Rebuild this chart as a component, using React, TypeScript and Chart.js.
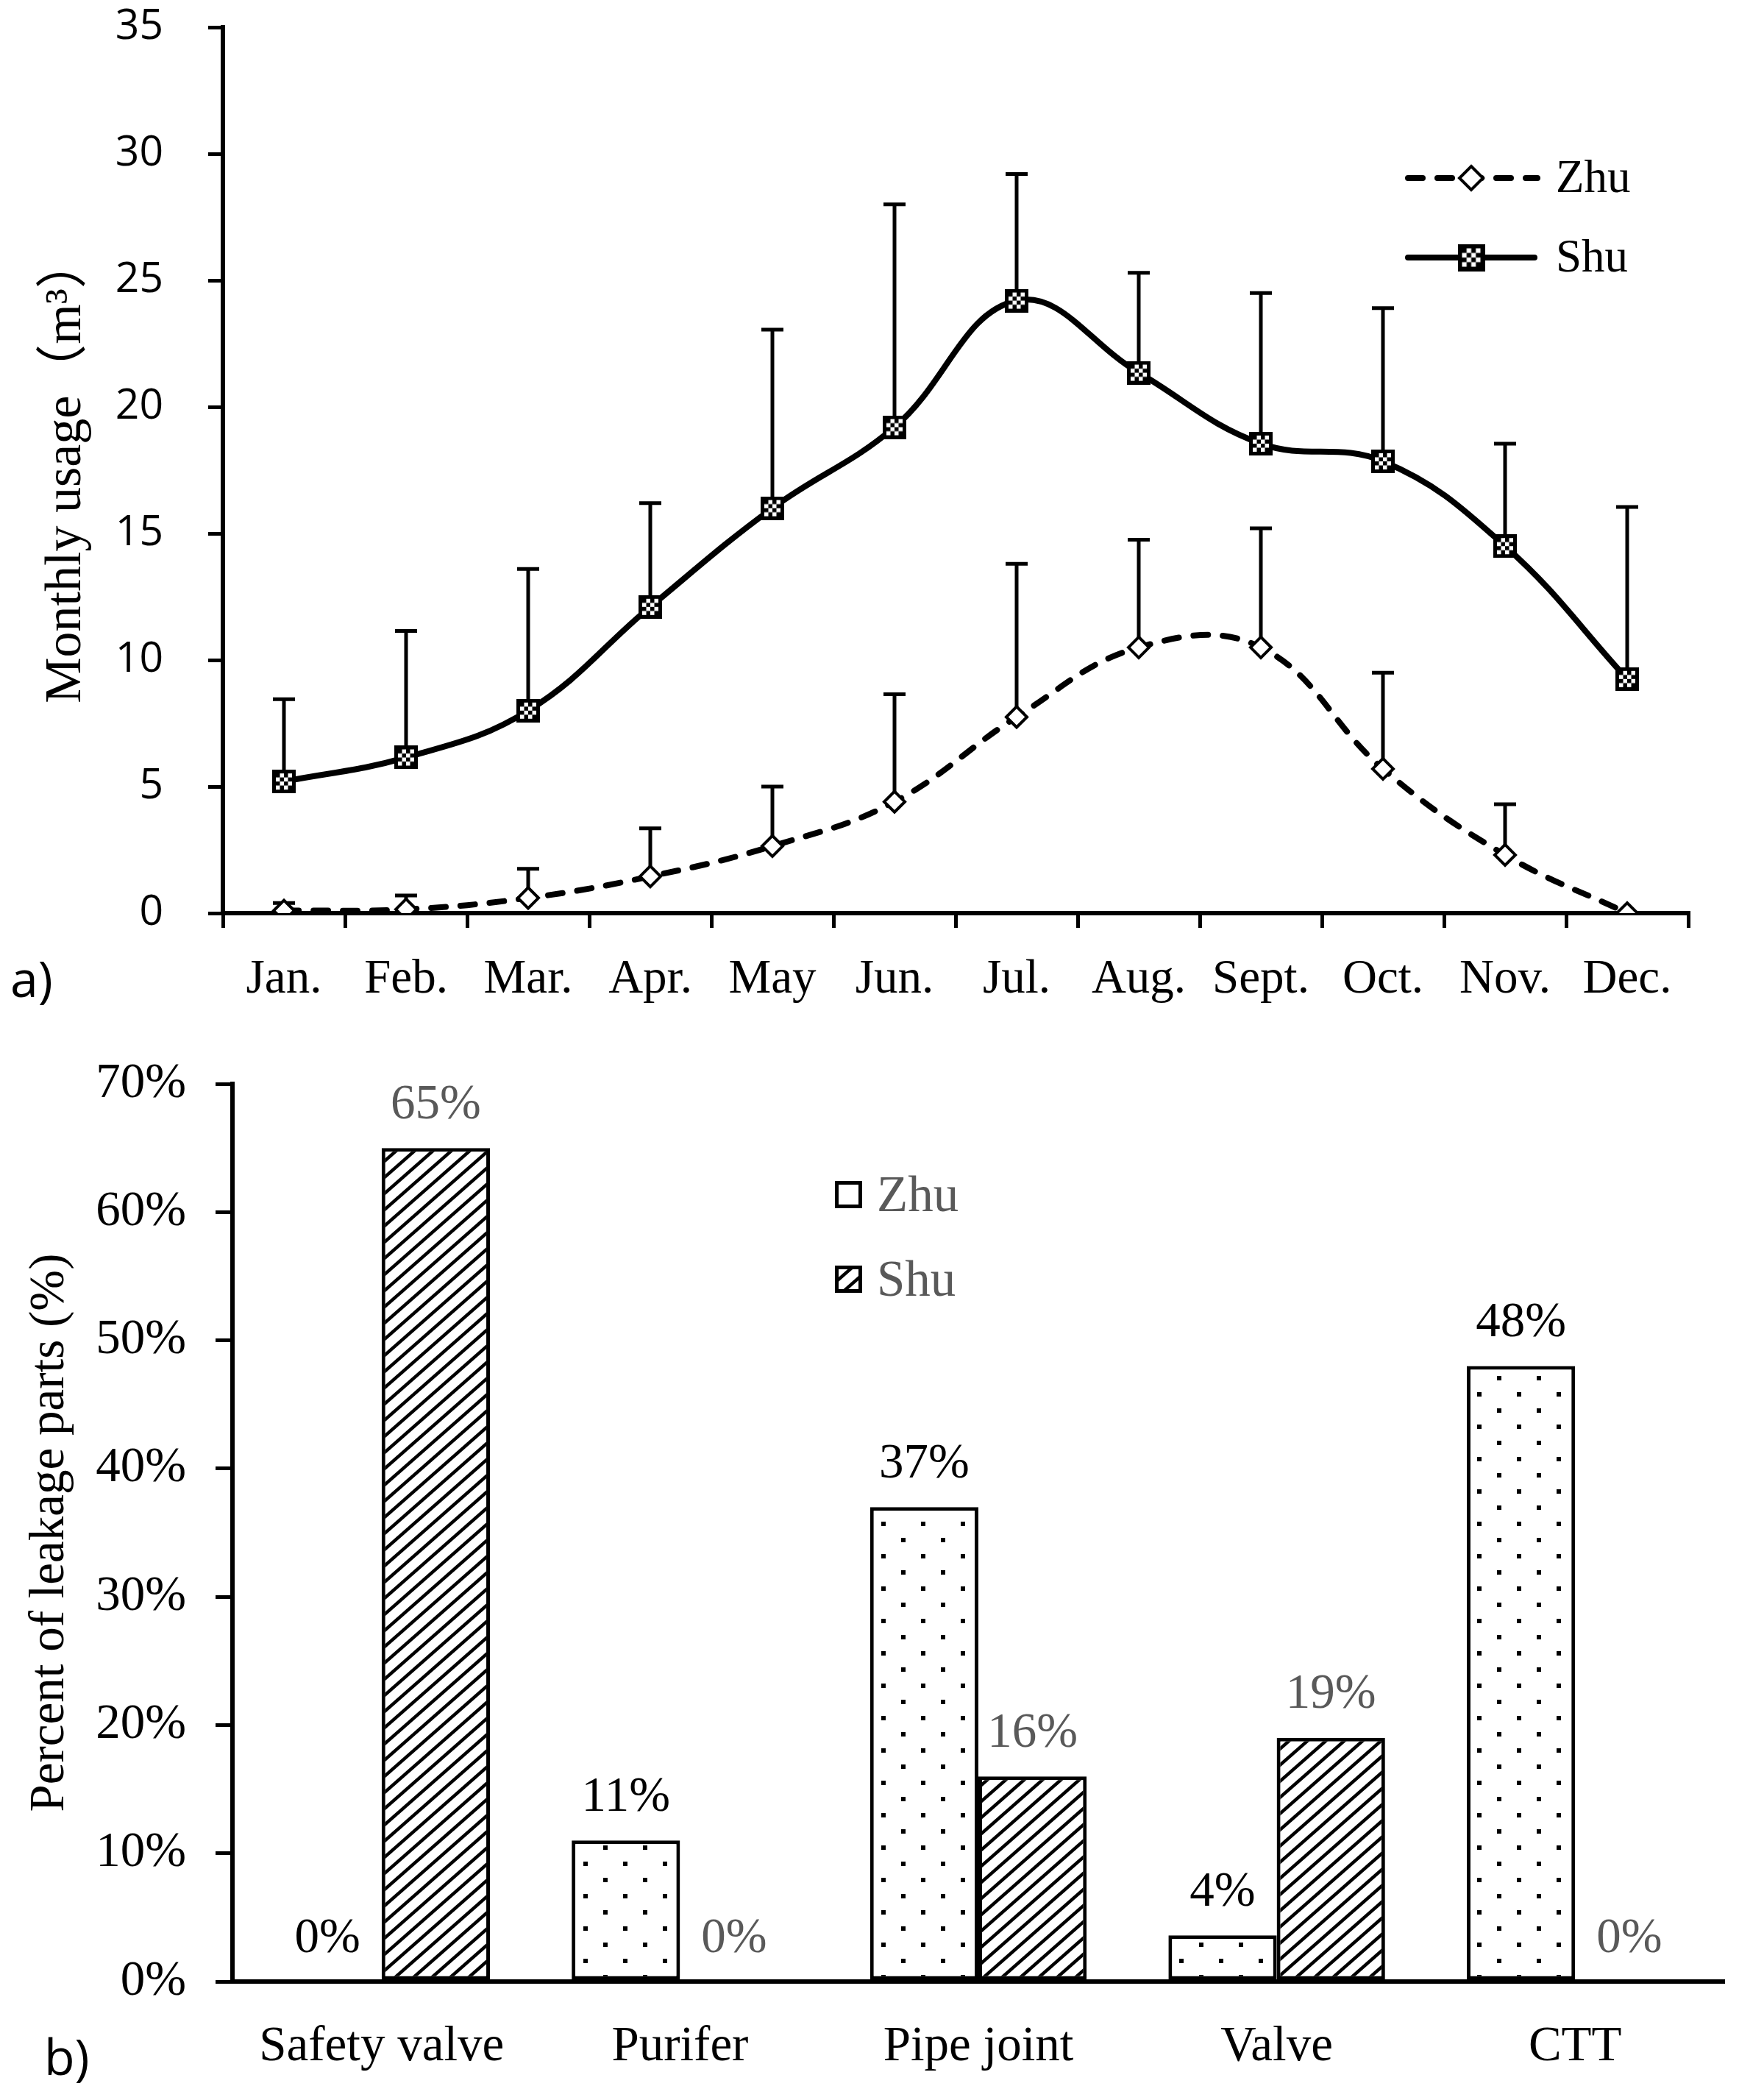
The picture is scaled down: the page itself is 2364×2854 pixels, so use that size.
import { useEffect, useRef } from "react"
import { Chart, registerables } from "chart.js"

Chart.register(...registerables)

// ---- data: monthly usage (m3) ----
const months = ["Jan.", "Feb.", "Mar.", "Apr.", "May", "Jun.", "Jul.", "Aug.", "Sept.", "Oct.", "Nov.", "Dec."]
const zhuUsage = [0.1, 0.15, 0.6, 1.45, 2.65, 4.4, 7.75, 10.5, 10.5, 5.7, 2.3, 0.0]
const zhuUpper = [0.4, 0.7, 1.75, 3.35, 5.0, 8.65, 13.8, 14.75, 15.2, 9.5, 4.3, 0.0]
const shuUsage = [5.2, 6.15, 8.0, 12.1, 16.0, 19.2, 24.2, 21.35, 18.55, 17.85, 14.5, 9.25]
const shuUpper = [8.45, 11.15, 13.6, 16.2, 23.05, 28.0, 29.2, 25.3, 24.5, 23.9, 18.55, 16.05]
const usageTicks = [0, 5, 10, 15, 20, 25, 30, 35]

// ---- data: leakage parts (%) ----
const parts = ["Safety valve", "Purifer", "Pipe joint", "Valve", "CTT"]
const zhuLeak = [0, 11, 37, 3.6, 48]
const shuLeak = [65, 0, 16, 19, 0]
const percentTicks = [0, 10, 20, 30, 40, 50, 60, 70]
const percentLabels = ["0%", "10%", "20%", "30%", "40%", "50%", "60%", "70%"]

const SERIF = "'Liberation Serif', 'Times New Roman', serif"
const SERIF_CJK = "'Liberation Serif', 'Noto Sans CJK SC', serif"
const SANS = "'Open Sans', sans-serif"
const GREY = "#595959"

function makeCheckerMarker(size: number) {
  const c = document.createElement("canvas")
  c.width = size
  c.height = size
  const g = c.getContext("2d")!
  g.fillStyle = "#000"
  g.fillRect(0, 0, size, size)
  const b = Math.round(size * 0.16)
  g.fillStyle = "#fff"
  g.fillRect(b, b, size - 2 * b, size - 2 * b)
  const n = 4
  const cell = (size - 2 * b) / n
  g.fillStyle = "#000"
  for (let i = 0; i < n; i++) {
    for (let j = 0; j < n; j++) {
      if ((i + j) % 2 === 0) g.fillRect(b + i * cell, b + j * cell, cell, cell)
    }
  }
  return c
}

function makeHatch(ctx: CanvasRenderingContext2D) {
  const w = 25
  const h = 22
  const c = document.createElement("canvas")
  c.width = w
  c.height = h
  const g = c.getContext("2d")!
  g.fillStyle = "#fff"
  g.fillRect(0, 0, w, h)
  g.strokeStyle = "#000"
  g.lineWidth = 4.5
  for (let k = -1; k <= 1; k++) {
    g.beginPath()
    g.moveTo(-w, 2 * h + k * h)
    g.lineTo(2 * w, -h + k * h)
    g.stroke()
  }
  return ctx.createPattern(c, "repeat")
}

function makeDots(ctx: CanvasRenderingContext2D) {
  const c = document.createElement("canvas")
  c.width = 54
  c.height = 44
  const g = c.getContext("2d")!
  g.fillStyle = "#fff"
  g.fillRect(0, 0, 54, 44)
  g.fillStyle = "#000"
  g.fillRect(10, 8, 6, 6)
  g.fillRect(37, 30, 6, 6)
  return ctx.createPattern(c, "repeat")
}

// upward-only error bars drawn under the lines
const usageErrorBars = {
  id: "usageErrorBars",
  beforeDatasetsDraw(chart: any) {
    const { ctx } = chart
    const y = chart.scales.y
    const uppers = [zhuUpper, shuUpper]
    const values = [zhuUsage, shuUsage]
    ctx.save()
    ctx.strokeStyle = "#000"
    ctx.lineWidth = 5
    uppers.forEach((upper, di) => {
      const meta = chart.getDatasetMeta(di)
      meta.data.forEach((pt: any, i: number) => {
        if (upper[i] <= values[di][i]) return
        const top = y.getPixelForValue(upper[i])
        ctx.beginPath()
        ctx.moveTo(pt.x, pt.y)
        ctx.lineTo(pt.x, top)
        ctx.moveTo(pt.x - 15, top)
        ctx.lineTo(pt.x + 15, top)
        ctx.stroke()
      })
    })
    ctx.restore()
  },
}

function UsageChart() {
  const chartRef = useRef<HTMLCanvasElement>(null)

  useEffect(() => {
    if (!chartRef.current) return
    const ctx = chartRef.current.getContext("2d")
    if (!ctx) return

    const checker = makeCheckerMarker(32)
    const checkerLegend = makeCheckerMarker(37)

    const legendPlugin = {
      id: "usageLegend",
      afterDraw(chart: any) {
        const c = chart.ctx
        c.save()
        // Zhu
        c.strokeStyle = "#000"
        c.lineWidth = 8
        c.lineCap = "round"
        c.setLineDash([20, 20])
        c.beginPath()
        c.moveTo(1914, 242)
        c.lineTo(2090, 242)
        c.stroke()
        c.setLineDash([])
        c.fillStyle = "#fff"
        c.lineWidth = 4
        c.beginPath()
        c.moveTo(2000, 226)
        c.lineTo(2016, 242)
        c.lineTo(2000, 258)
        c.lineTo(1984, 242)
        c.closePath()
        c.fill()
        c.stroke()
        // Shu
        c.lineWidth = 8
        c.beginPath()
        c.moveTo(1914, 350)
        c.lineTo(2086, 350)
        c.stroke()
        c.drawImage(checkerLegend, 2000 - 18.5, 350 - 18.5)
        c.fillStyle = "#000"
        c.font = `63px ${SERIF}`
        c.textBaseline = "middle"
        c.textAlign = "left"
        c.fillText("Zhu", 2115, 244)
        c.fillText("Shu", 2115, 352)
        c.restore()
      },
    }

    const chart = new Chart(ctx, {
      type: "line",
      data: {
        labels: months,
        datasets: [
          {
            label: "Zhu",
            data: zhuUsage,
            borderColor: "#000",
            borderWidth: 8,
            borderDash: [20, 20],
            borderCapStyle: "round",
            tension: 0.4,
            fill: false,
            pointStyle: "rectRot",
            pointRadius: 14,
            pointBorderWidth: 4,
            pointBackgroundColor: "#fff",
            pointBorderColor: "#000",
          },
          {
            label: "Shu",
            data: shuUsage,
            borderColor: "#000",
            borderWidth: 8,
            tension: 0.4,
            fill: false,
            pointStyle: checker,
            pointRadius: 16,
          },
        ],
      },
      options: {
        responsive: false,
        maintainAspectRatio: false,
        animation: false,
        layout: { autoPadding: false, padding: { top: 37, right: 69, left: 0, bottom: 0 } },
        plugins: {
          legend: { display: false },
          tooltip: { enabled: false },
        },
        scales: {
          x: {
            offset: true,
            grid: {
              display: true,
              offset: true,
              drawOnChartArea: false,
              drawTicks: true,
              tickLength: 20,
              lineWidth: 5,
              color: "#000",
            },
            border: { display: true, color: "#000", width: 6 },
            ticks: {
              color: "#000",
              font: { family: SERIF, size: 65 },
              padding: 32,
              maxRotation: 0,
              autoSkip: false,
            },
            afterFit: (s: any) => {
              s.height = 159
              s.paddingLeft = 0
              s.paddingRight = 0
            },
          },
          y: {
            min: 0,
            max: 35,
            afterBuildTicks: (s: any) => {
              s.ticks = usageTicks.map((v) => ({ value: v }))
            },
            ticks: {
              color: "#000",
              font: { family: SANS, size: 57 },
              padding: 61,
            },
            grid: {
              drawOnChartArea: false,
              tickLength: 20,
              lineWidth: 5,
              color: "#000",
            },
            border: { display: true, color: "#000", width: 6 },
            title: {
              display: true,
              text: "Monthly usage（m³）",
              color: "#000",
              font: { family: SERIF_CJK, size: 70 },
              padding: { top: 49, bottom: 0 },
            },
            afterFit: (s: any) => {
              s.width = 303
              s.paddingTop = 0
              s.paddingBottom = 0
            },
          },
        },
      },
      plugins: [usageErrorBars, legendPlugin],
    } as any)

    return () => {
      chart.destroy()
    }
  }, [])

  return (
    <canvas
      ref={chartRef}
      width={2364}
      height={1400}
      style={{ position: "absolute", left: 0, top: 0, display: "block" }}
    />
  )
}

function LeakageChart() {
  const chartRef = useRef<HTMLCanvasElement>(null)

  useEffect(() => {
    if (!chartRef.current) return
    const ctx = chartRef.current.getContext("2d")
    if (!ctx) return

    const dots = makeDots(ctx)
    const hatch = makeHatch(ctx)

    const valueLabels = {
      id: "valueLabels",
      afterDatasetsDraw(chart: any) {
        const c = chart.ctx
        c.save()
        c.font = `67px ${SERIF}`
        c.textAlign = "center"
        c.textBaseline = "middle"
        chart.data.datasets.forEach((ds: any, di: number) => {
          c.fillStyle = di === 0 ? "#000" : GREY
          chart.getDatasetMeta(di).data.forEach((bar: any, i: number) => {
            c.fillText(`${Math.round(ds.data[i])}%`, bar.x, bar.y - 58)
          })
        })
        c.restore()
      },
    }

    const legendPlugin = {
      id: "leakLegend",
      afterDraw(chart: any) {
        const c = chart.ctx
        c.save()
        c.lineWidth = 5
        c.strokeStyle = "#000"
        c.fillStyle = "#fff"
        c.fillRect(1137.5, 207.5, 32, 32)
        c.strokeRect(1137.5, 207.5, 32, 32)
        c.fillStyle = hatch as any
        c.fillRect(1137.5, 322.5, 32, 32)
        c.strokeRect(1137.5, 322.5, 32, 32)
        c.fillStyle = GREY
        c.font = `69px ${SERIF}`
        c.textBaseline = "middle"
        c.textAlign = "left"
        c.fillText("Zhu", 1192, 228)
        c.fillText("Shu", 1192, 343)
        c.restore()
      },
    }

    const chart = new Chart(ctx, {
      type: "bar",
      data: {
        labels: parts,
        datasets: [
          {
            label: "Zhu",
            data: zhuLeak,
            backgroundColor: dots,
            borderColor: "#000",
            borderWidth: 5,
            borderSkipped: false,
          },
          {
            label: "Shu",
            data: shuLeak,
            backgroundColor: hatch,
            borderColor: "#000",
            borderWidth: 5,
            borderSkipped: false,
          },
        ],
      },
      options: {
        responsive: false,
        maintainAspectRatio: false,
        animation: false,
        categoryPercentage: 0.726,
        barPercentage: 1.0,
        layout: { autoPadding: false, padding: { top: 73, right: 20, left: 0, bottom: 0 } },
        plugins: {
          legend: { display: false },
          tooltip: { enabled: false },
        },
        scales: {
          x: {
            grid: { display: false, drawTicks: false },
            border: { display: true, color: "#000", width: 6 },
            ticks: {
              color: "#000",
              font: { family: SERIF, size: 67 },
              padding: 49,
              maxRotation: 0,
              autoSkip: false,
            },
            afterFit: (s: any) => {
              s.height = 161
              s.paddingLeft = 0
              s.paddingRight = 0
            },
          },
          y: {
            min: 0,
            max: 70,
            afterBuildTicks: (s: any) => {
              s.ticks = percentTicks.map((v) => ({ value: v }))
            },
            ticks: {
              color: "#000",
              font: { family: SERIF, size: 67 },
              padding: 40,
              callback: (v: any) => percentLabels[percentTicks.indexOf(Number(v))],
            },
            grid: {
              drawOnChartArea: false,
              tickLength: 23,
              lineWidth: 5,
              color: "#000",
            },
            border: { display: true, color: "#000", width: 6 },
            title: {
              display: true,
              text: "Percent of leakage parts (%)",
              color: "#000",
              font: { family: SERIF, size: 67 },
              padding: { top: 28, bottom: 0 },
            },
            afterFit: (s: any) => {
              s.width = 316
              s.paddingTop = 0
              s.paddingBottom = 0
            },
          },
        },
      },
      plugins: [valueLabels, legendPlugin],
    } as any)

    return () => {
      chart.destroy()
    }
  }, [])

  return (
    <canvas
      ref={chartRef}
      width={2364}
      height={1454}
      style={{ position: "absolute", left: 0, top: 1400, display: "block" }}
    />
  )
}

export default function App() {
  const panelLabel = {
    position: "absolute" as const,
    fontFamily: SANS,
    fontSize: 68,
    lineHeight: "68px",
    color: "#000",
    margin: 0,
  }
  return (
    <div
      style={{
        position: "absolute",
        left: 0,
        top: 0,
        width: 2364,
        height: 2854,
        background: "#fff",
        overflow: "hidden",
      }}
    >
      <UsageChart />
      <LeakageChart />
      <div style={{ ...panelLabel, left: 14, top: 1295 }}>a)</div>
      <div style={{ ...panelLabel, left: 60, top: 2760 }}>b)</div>
    </div>
  )
}
